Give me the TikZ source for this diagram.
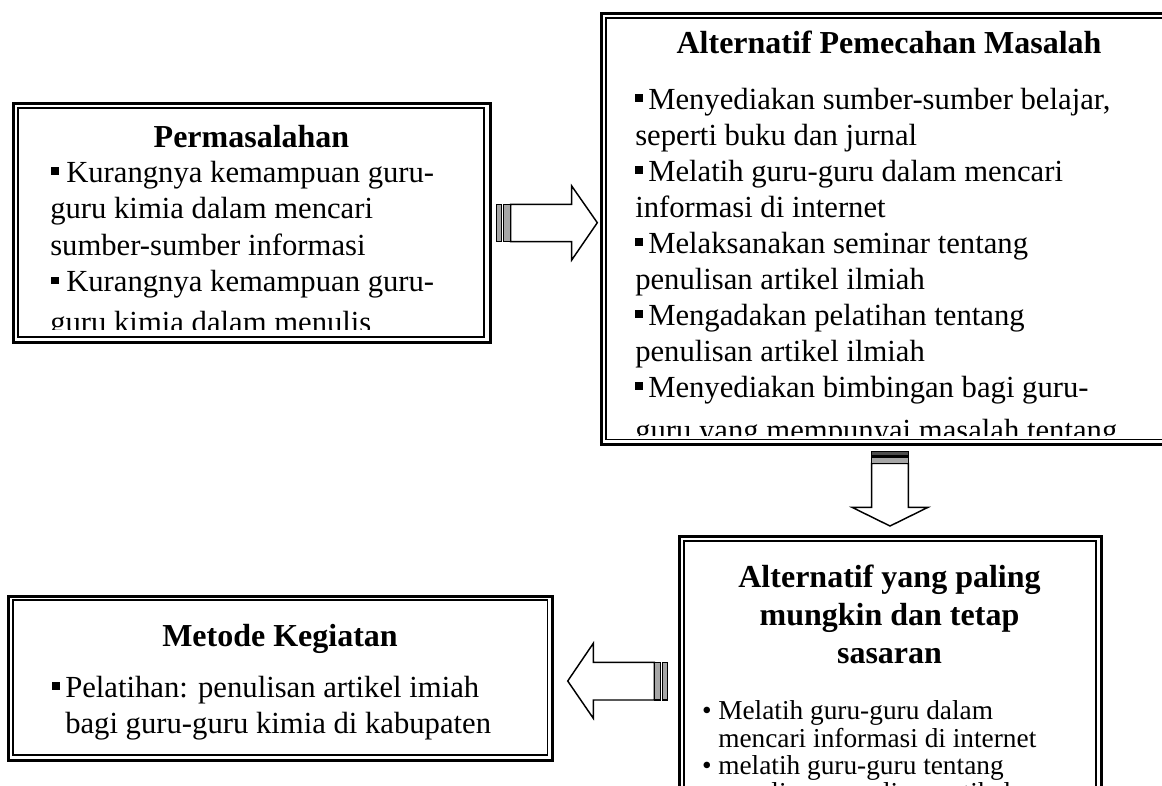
\documentclass[tikz,border=0pt]{standalone}
\usepackage{fontspec}
\setmainfont{Liberation Serif}
\begin{document}
\begin{tikzpicture}[x=0.75pt,y=-0.75pt,
  outerline/.style={line width=2.25pt},
  innerline/.style={line width=1.4pt},
  bodytext/.style={anchor=base west,inner sep=0pt,font=\fontsize{23}{27}\selectfont},
  smalltext/.style={anchor=base west,inner sep=0pt,font=\fontsize{20.5}{24}\selectfont},
  headtext/.style={anchor=base,inner sep=0pt,font=\fontsize{24}{28}\selectfont\bfseries},
  sqbullet/.style={fill=black,inner sep=0pt,minimum size=5.8pt,rectangle},
  blockarrow/.style={draw=black,fill=white,line width=1.1pt,line join=miter},
  tailbar/.style={draw=black,fill=black!35,line width=0.9pt}]
\useasboundingbox (0,0) rectangle (1162,785);
\clip (0,0) rectangle (1162,785);

% ---------- Box 1: Permasalahan
\draw[outerline] (13.5,103.3) rectangle (490,342.7);
\draw[innerline] (18.3,108.3) rectangle (484,337.3);
\begin{scope}
\clip (20,110) rectangle (482,329);
\node[headtext] (h1) at (251.5,147) {Permasalahan};
\node[sqbullet] (s11) at (55,171) {};
\node[bodytext] (t11) at (66,182) {Kurangnya kemampuan guru-};
\node[bodytext] (t12) at (50,218.5) {guru kimia dalam mencari};
\node[bodytext] (t13) at (50,255) {sumber-sumber informasi};
\node[sqbullet] (s12) at (55,280.5) {};
\node[bodytext] (t14) at (66,291.5) {Kurangnya kemampuan guru-};
\node[bodytext] (t15) at (50,332) {guru kimia dalam menulis};
\end{scope}

% ---------- Box 2: Alternatif Pemecahan Masalah
\draw[outerline] (601.3,13) rectangle (1175,444.3);
\draw[innerline] (606,18.3) rectangle (1170,439.5);
\begin{scope}
\clip (608,20) rectangle (1168,435);
\node[headtext] (h2) at (889,53) {Alternatif Pemecahan Masalah};
\node[sqbullet] (s21) at (639,98) {};
\node[bodytext] (t21) at (648,109) {Menyediakan sumber-sumber belajar,};
\node[bodytext] (t22) at (635,145) {seperti buku dan jurnal};
\node[sqbullet] (s22) at (639,170) {};
\node[bodytext] (t23) at (648,181) {Melatih guru-guru dalam mencari};
\node[bodytext] (t24) at (635,217) {informasi di internet};
\node[sqbullet] (s23) at (639,242) {};
\node[bodytext] (t25) at (648,253) {Melaksanakan seminar tentang};
\node[bodytext] (t26) at (635,289) {penulisan artikel ilmiah};
\node[sqbullet] (s24) at (639,314) {};
\node[bodytext] (t27) at (648,325) {Mengadakan pelatihan tentang};
\node[bodytext] (t28) at (635,361) {penulisan artikel ilmiah};
\node[sqbullet] (s25) at (639,386) {};
\node[bodytext] (t29) at (648,397) {Menyediakan bimbingan bagi guru-};
\node[bodytext] (t210) at (635,440) {guru yang mempunyai masalah tentang};
\end{scope}

% ---------- Box 3: Alternatif yang paling mungkin
\draw[outerline] (679,536.3) rectangle (1101.2,800);
\draw[innerline] (684,541.2) rectangle (1096,795);
\begin{scope}
\clip (686,543) rectangle (1094,793);
\node[headtext] (h31) at (889.5,587) {Alternatif yang paling};
\node[headtext] (h32) at (889.5,625) {mungkin dan tetap};
\node[headtext] (h33) at (889.5,663) {sasaran};
\node[smalltext,anchor=base] (s31) at (707,719) {\textbullet};
\node[smalltext] (t31) at (718,719) {Melatih guru-guru dalam};
\node[smalltext] (t32) at (718,747) {mencari informasi di internet};
\node[smalltext,anchor=base] (s32) at (707,774) {\textbullet};
\node[smalltext] (t33) at (718,774) {melatih guru-guru tentang};
\node[smalltext] (t34) at (718,801) {penulisan penulisan artikel};
\end{scope}

% ---------- Box 4: Metode Kegiatan
\draw[outerline] (8.3,596) rectangle (552,760);
\draw[innerline] (13,600.3) rectangle (547.5,755.2);
\begin{scope}
\clip (15,602) rectangle (545,753);
\node[headtext] (h4) at (280,646) {Metode Kegiatan};
\node[sqbullet] (s41) at (56,686) {};
\node[bodytext] (t41) at (65,697) {Pelatihan: penulisan artikel imiah};
\node[bodytext] (t42) at (65,733) {bagi guru-guru kimia di kabupaten};
\end{scope}

% ---------- Arrow 1: right
\draw[blockarrow] (510.7,204.3) -- (571.7,204.3) -- (571.7,186) -- (597.3,222.7)
  -- (571.7,260) -- (571.7,241.7) -- (510.7,241.7) -- cycle;
\draw[tailbar] (496.7,204.3) rectangle (501.7,241.7);
\draw[tailbar] (503.3,204.3) rectangle (510.7,241.7);

% ---------- Arrow 2: down
\draw[blockarrow] (871.7,463.3) -- (871.7,507.3) -- (852,507.3) -- (890,526)
  -- (928,507.3) -- (908.3,507.3) -- (908.3,463.3) -- cycle;
\draw[tailbar,fill=black!70] (871.7,451.7) rectangle (908.3,456);
\draw[tailbar] (871.7,457.7) rectangle (908.3,463.3);

% ---------- Arrow 3: left
\draw[blockarrow] (654.3,662.3) -- (593.3,662.3) -- (593.3,643.3) -- (567.7,681)
  -- (593.3,718.3) -- (593.3,700) -- (654.3,700) -- cycle;
\draw[tailbar] (662.7,662.3) rectangle (667.3,700);
\draw[tailbar] (654.3,662.3) rectangle (660.7,700);
\end{tikzpicture}
\end{document}
